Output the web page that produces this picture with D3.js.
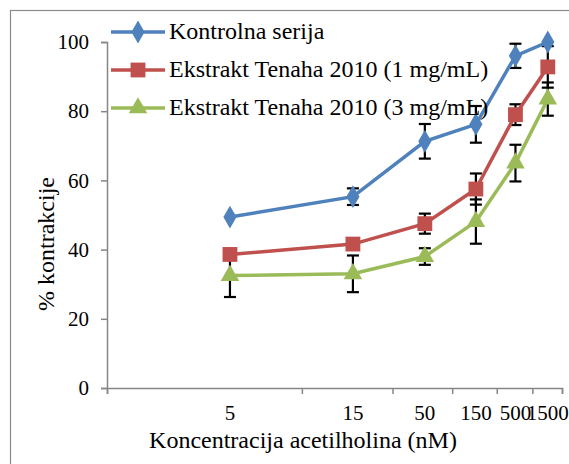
<!DOCTYPE html>
<html lang="en">
<head>
    <meta charset="utf-8">
    <title>Kontrakcija</title>
    <script src="https://d3js.org/d3.v7.min.js"></script>
    <style>
        body { margin: 0; background: #fff; }
    </style>
</head>
<body>
    <div id="chart"></div>
    <script>

        // concentrations of acetylcholine (nM), used as category labels
        const categories = ["5", "15", "50", "150", "500", "1500"];

        // % contraction for each series
        const kontrola = [49.4, 55.3, 71.3, 76.2, 96, 100];
        const kontrolaErr = [0, 2.4, 5, 5.3, 3.5, 0];
        const ekstrakt1 = [38.6, 41.6, 47.5, 57.5, 79, 92.8];
        const ekstrakt1Err = [1, 1, 2.9, 4.5, 3, 6];
        const ekstrakt3 = [32.5, 33, 38, 48.1, 65, 83.5];
        const ekstrakt3Err = [6.2, 5.3, 2.4, 6.4, 5.3, 4.8];

        const yTicks = [0, 20, 40, 60, 80, 100];

        const series = [
            { name: "Kontrolna serija", values: kontrola, err: kontrolaErr, color: "#4F81BD", symbol: d3.symbolDiamond, size: 150 },
            { name: "Ekstrakt Tenaha 2010 (1 mg/mL)", values: ekstrakt1, err: ekstrakt1Err, color: "#C0504D", symbol: d3.symbolSquare, size: 220 },
            { name: "Ekstrakt Tenaha 2010 (3 mg/mL)", values: ekstrakt3, err: ekstrakt3Err, color: "#9BBB59", symbol: d3.symbolTriangle, size: 150 }
        ];

        const width = 569, height = 464;
        const serif = "'Liberation Serif', 'Times New Roman', serif";

        const svg = d3.select("#chart")
            .append("svg")
            .attr("width", width)
            .attr("height", height);

        // chart area border (runs off the right and bottom edge)
        svg.append("rect")
            .attr("x", 10.5).attr("y", 10.5)
            .attr("width", 620).attr("height", 520)
            .attr("fill", "none")
            .attr("stroke", "#8c8c8c")
            .attr("stroke-width", 1.2);

        // x is a log axis over the category position (1..6), ticks between categories
        const x = d3.scaleLog().domain([0.5, 6.5]).range([107, 562]);
        const y = d3.scaleLinear().domain([0, 100]).range([388, 42]);

        const axisColor = "#868686";

        const yAxis = svg.append("g")
            .attr("transform", "translate(107,0)")
            .call(d3.axisLeft(y).tickValues(yTicks).tickSize(6).tickPadding(12));
        yAxis.selectAll("text")
            .style("font-family", serif)
            .style("font-size", "21px")
            .attr("fill", "#000");

        const xAxis = svg.append("g")
            .attr("transform", "translate(0,388)")
            .call(d3.axisBottom(x).tickValues(d3.range(0.5, 7, 1)).tickSize(6).tickFormat(""));

        [yAxis, xAxis].forEach(g => {
            g.selectAll("path, line").attr("stroke", axisColor).attr("stroke-width", 1.5);
        });

        // category labels under the axis
        svg.append("g").selectAll("text")
            .data(categories)
            .enter()
                .append("text")
                .attr("x", (d, i) => x(i + 1))
                .attr("y", 420)
                .attr("text-anchor", "middle")
                .style("font-family", serif)
                .style("font-size", "21px")
                .text(d => d);

        // axis titles
        svg.append("text")
            .attr("x", 303).attr("y", 448)
            .attr("text-anchor", "middle")
            .style("font-family", serif)
            .style("font-size", "24px")
            .text("Koncentracija acetilholina (nM)");

        svg.append("text")
            .attr("transform", "translate(54,244) rotate(-90)")
            .attr("text-anchor", "middle")
            .style("font-family", serif)
            .style("font-size", "24px")
            .text("% kontrakcije");

        const line = d3.line()
            .x((d, i) => x(i + 1))
            .y(d => y(d));

        // error bars
        series.forEach(s => {
            const g = svg.append("g");
            s.values.forEach((v, i) => {
                if (!s.err[i]) return;
                const cx = x(i + 1), top = y(v + s.err[i]), bot = y(v - s.err[i]);
                g.append("line").attr("x1", cx).attr("x2", cx).attr("y1", top).attr("y2", bot);
                g.append("line").attr("x1", cx - 6).attr("x2", cx + 6).attr("y1", top).attr("y2", top);
                g.append("line").attr("x1", cx - 6).attr("x2", cx + 6).attr("y1", bot).attr("y2", bot);
            });
            g.selectAll("line").attr("stroke", "#000").attr("stroke-width", 2.2);
        });

        // lines
        series.forEach(s => {
            svg.append("path")
                .datum(s.values)
                .attr("d", line)
                .attr("fill", "none")
                .attr("stroke", s.color)
                .attr("stroke-width", 3.5);
        });

        // markers
        series.forEach(s => {
            svg.append("g").selectAll("path")
                .data(s.values)
                .enter()
                    .append("path")
                    .attr("transform", (d, i) => `translate(${x(i + 1)},${y(d)})`)
                    .attr("d", d3.symbol().type(s.symbol).size(s.size))
                    .attr("fill", s.color);
        });

        // legend
        const legend = svg.append("g");
        series.forEach((s, i) => {
            const ly = 32 + i * 38;
            legend.append("line")
                .attr("x1", 111).attr("x2", 165)
                .attr("y1", ly).attr("y2", ly)
                .attr("stroke", s.color)
                .attr("stroke-width", 3.5);
            legend.append("path")
                .attr("transform", `translate(138,${ly})`)
                .attr("d", d3.symbol().type(s.symbol).size(s.size))
                .attr("fill", s.color);
            legend.append("text")
                .attr("x", 169).attr("y", ly + 7)
                .style("font-family", serif)
                .style("font-size", "24px")
                .text(s.name);
        });

    </script>
</body>
</html>
